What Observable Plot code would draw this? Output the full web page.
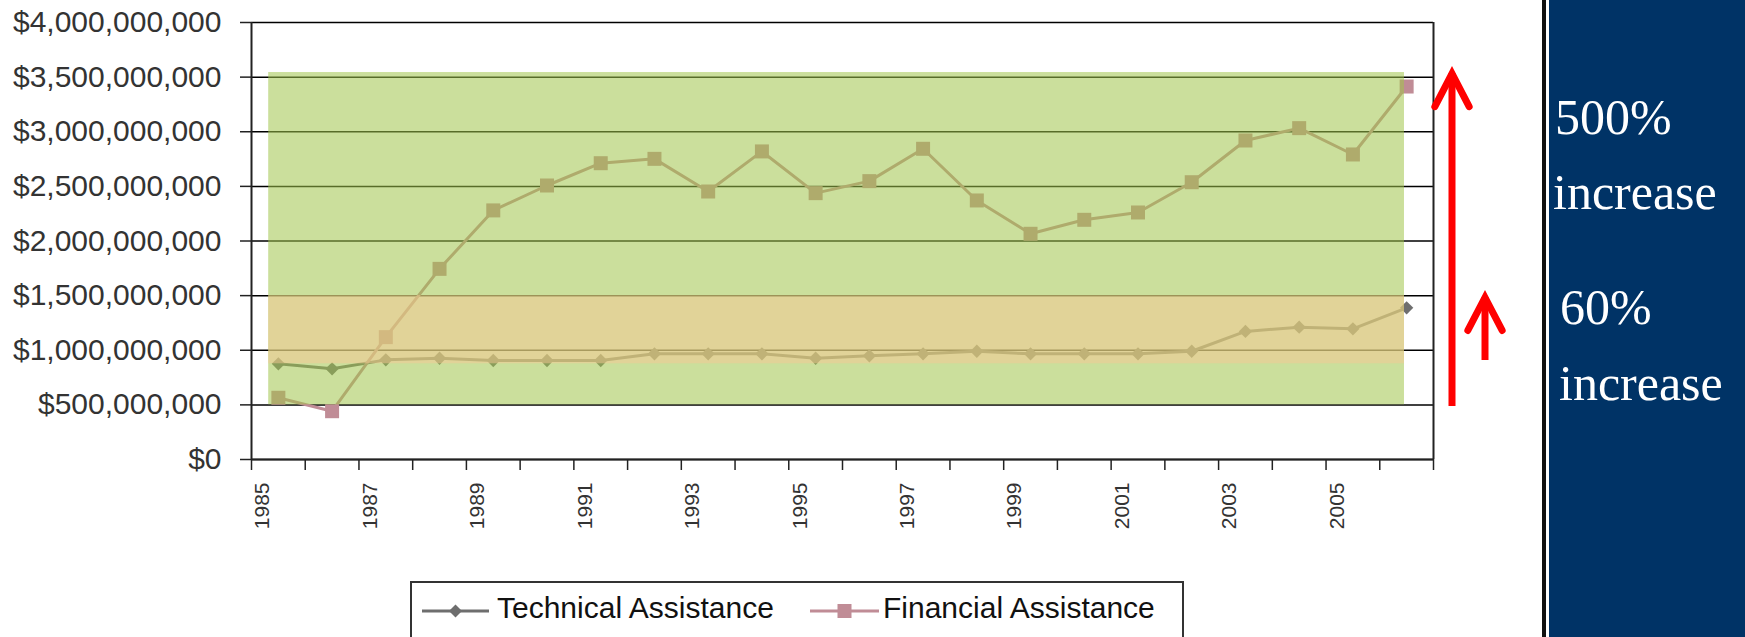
<!DOCTYPE html>
<html>
<head>
<meta charset="utf-8">
<script src="https://cdn.jsdelivr.net/npm/d3@7"></script>
<script src="https://cdn.jsdelivr.net/npm/@observablehq/plot@0.6"></script>
<style>
  body { margin: 0; background: #fff; }
  #wrap { position: relative; width: 1745px; height: 637px; overflow: hidden; background: #fff;
          font-family: "Liberation Sans", Arial, sans-serif; }
  #chart { position: absolute; left: 0; top: 0; }
  #overlay { position: absolute; left: 0; top: 0; }
</style>
</head>
<body>
<div id="wrap">
  <div id="chart"></div>
  <svg id="overlay" width="1745" height="637"></svg>
</div>
<script>
// ---------------- data ----------------
const years = [1985, 1986, 1987, 1988, 1989, 1990, 1991, 1992, 1993, 1994, 1995,
               1996, 1997, 1998, 1999, 2000, 2001, 2002, 2003, 2004, 2005, 2006];
const technicalAssistance = [0.876e9, 0.83e9, 0.912e9, 0.927e9, 0.906e9, 0.906e9, 0.906e9, 0.967e9,
                             0.967e9, 0.967e9, 0.927e9, 0.949e9, 0.967e9, 0.991e9, 0.967e9, 0.967e9,
                             0.967e9, 0.991e9, 1.172e9, 1.211e9, 1.196e9, 1.388e9];
const financialAssistance = [0.565e9, 0.442e9, 1.12e9, 1.745e9, 2.28e9, 2.508e9, 2.712e9, 2.752e9,
                             2.453e9, 2.82e9, 2.438e9, 2.548e9, 2.844e9, 2.371e9, 2.066e9, 2.194e9,
                             2.261e9, 2.538e9, 2.92e9, 3.033e9, 2.792e9, 3.414e9];
const seriesNames = ["Technical Assistance", "Financial Assistance"];
const yTicks = [0, 5e8, 1e9, 1.5e9, 2e9, 2.5e9, 3e9, 3.5e9, 4e9];
const xTicks = [1985, 1986, 1987, 1988, 1989, 1990, 1991, 1992, 1993, 1994, 1995, 1996,
                1997, 1998, 1999, 2000, 2001, 2002, 2003, 2004, 2005, 2006, 2007];
const xTickLabels = [1985, 1987, 1989, 1991, 1993, 1995, 1997, 1999, 2001, 2003, 2005];
// highlighted value ranges (low, high) and the year span they cover
const highlightRanges = [[0.5e9, 3.542e9], [0.876e9, 1.5e9]];
const highlightYears = [1985.32, 2006.46];
// annotation arrows: value range and label
const increaseArrows = [
  {from: 0.485e9, to: 3.533e9, pct: "500%"},
  {from: 0.906e9, to: 1.483e9, pct: "60%"}
];
const increaseWord = "increase";

// ---------------- styles ----------------
const techColor = "#6e6e6e";
const finColor = "#c08c96";
const highlightFills = ["rgb(160,197,75)", "rgb(247,199,148)"];
const highlightOpacity = [0.55, 0.5];
const arrowOffsets = [18.5, 51.5];

const rows = years.map((year, i) => ({year, technical: technicalAssistance[i], financial: financialAssistance[i]}));
const mid = d => d.year + 0.5;
const lastYear = () => xTicks[xTicks.length - 1];

const arrowHead = {
  draw(ctx, size) {
    const r = Math.sqrt(size / Math.PI);
    ctx.moveTo(-0.52 * r, r);
    ctx.lineTo(0, 0);
    ctx.lineTo(0.52 * r, r);
  }
};

const arrowMarks = increaseArrows.flatMap((a, i) => [
  Plot.ruleX([a], {x: lastYear, y1: "from", y2: "to", dx: arrowOffsets[i],
                   stroke: "#ff0000", strokeWidth: 7}),
  Plot.dot([a], {x: lastYear, y: "to", dx: arrowOffsets[i], r: 33,
                 symbol: arrowHead, fill: "none", stroke: "#ff0000", strokeWidth: 7,
                 strokeLinecap: "round", strokeLinejoin: "miter"})
]);

const chart = Plot.plot({
  width: 1745,
  height: 637,
  marginLeft: 251,
  marginRight: 312,
  marginTop: 22,
  marginBottom: 178,
  style: {background: "transparent", color: "#222", fontFamily: "'Liberation Sans', Arial, sans-serif"},
  x: {type: "linear", domain: [xTicks[0], xTicks[xTicks.length - 1]]},
  y: {domain: [yTicks[0], yTicks[yTicks.length - 1]]},
  marks: [
    Plot.gridY(yTicks, {stroke: "#000", strokeOpacity: 1, strokeWidth: 1.5}),
    Plot.axisY(yTicks, {tickSize: 11, tickPadding: 19, fontSize: 30, fill: "#333", stroke: "#222",
                        strokeWidth: 1.5, tickFormat: d3.format("$,.0f"), label: null}),
    Plot.axisX(xTicks, {tickSize: 11, stroke: "#222", strokeWidth: 1.5,
                        tickFormat: () => "", label: null}),
    Plot.text(xTickLabels, {x: d => d, frameAnchor: "bottom", text: d => String(d), rotate: -90,
                            textAnchor: "end", lineAnchor: "middle", dx: 11, dy: 23,
                            fontSize: 21, fill: "#333"}),
    Plot.ruleX([xTicks[0], xTicks[xTicks.length - 1]], {stroke: "#222", strokeWidth: 2}),
    Plot.ruleY([0], {stroke: "#222", strokeWidth: 2}),
    Plot.line(rows, {x: mid, y: "technical", stroke: techColor, strokeWidth: 3}),
    Plot.dot(rows, {x: mid, y: "technical", symbol: "diamond2", r: 6, fill: techColor, stroke: "none"}),
    Plot.line(rows, {x: mid, y: "financial", stroke: finColor, strokeWidth: 3}),
    Plot.dot(rows, {x: mid, y: "financial", symbol: "square", r: 7.9, fill: finColor, stroke: "none"}),
    ...highlightRanges.map((r, i) => Plot.rect([r], {
      x1: () => highlightYears[0], x2: () => highlightYears[1], y1: d => d[0], y2: d => d[1],
      fill: highlightFills[i], fillOpacity: highlightOpacity[i]
    })),
    ...arrowMarks
  ]
});
document.getElementById("chart").appendChild(chart);

// ---------------- legend and side panel ----------------
const ov = d3.select("#overlay");
// legend
ov.append("rect").attr("x", 411).attr("y", 582).attr("width", 772).attr("height", 120)
  .attr("fill", "none").attr("stroke", "#333").attr("stroke-width", 2);
const legendItems = [
  {name: seriesNames[0], color: techColor, x0: 422, x1: 489, text: 497, shape: "diamond"},
  {name: seriesNames[1], color: finColor, x0: 810, x1: 879, text: 883, shape: "square"}
];
legendItems.forEach(it => {
  ov.append("line").attr("x1", it.x0).attr("x2", it.x1).attr("y1", 611).attr("y2", 611)
    .attr("stroke", it.color).attr("stroke-width", 3);
  const cx = (it.x0 + it.x1) / 2;
  if (it.shape === "diamond") {
    ov.append("path").attr("d", `M${cx},${611 - 6.5}L${cx + 6.5},611L${cx},${611 + 6.5}L${cx - 6.5},611Z`).attr("fill", it.color);
  } else {
    ov.append("rect").attr("x", cx - 7).attr("y", 604).attr("width", 14).attr("height", 14).attr("fill", it.color);
  }
  ov.append("text").attr("x", it.text).attr("y", 618).attr("font-size", 30)
    .attr("font-family", "'Liberation Sans', Arial, sans-serif").attr("fill", "#111").text(it.name);
});
// side panel
ov.append("rect").attr("x", 1542).attr("y", 0).attr("width", 4).attr("height", 637).attr("fill", "#111");
ov.append("rect").attr("x", 1549).attr("y", 0).attr("width", 196).attr("height", 637).attr("fill", "#003366");
const panelText = [
  {t: increaseArrows[0].pct, x: 1555, y: 134},
  {t: increaseWord, x: 1553, y: 209},
  {t: increaseArrows[1].pct, x: 1560, y: 324},
  {t: increaseWord, x: 1559, y: 400}
];
panelText.forEach(p => {
  ov.append("text").attr("x", p.x).attr("y", p.y).attr("font-size", 50)
    .attr("font-family", "'Liberation Serif', 'Times New Roman', serif").attr("fill", "#fff").text(p.t);
});
</script>
</body>
</html>
